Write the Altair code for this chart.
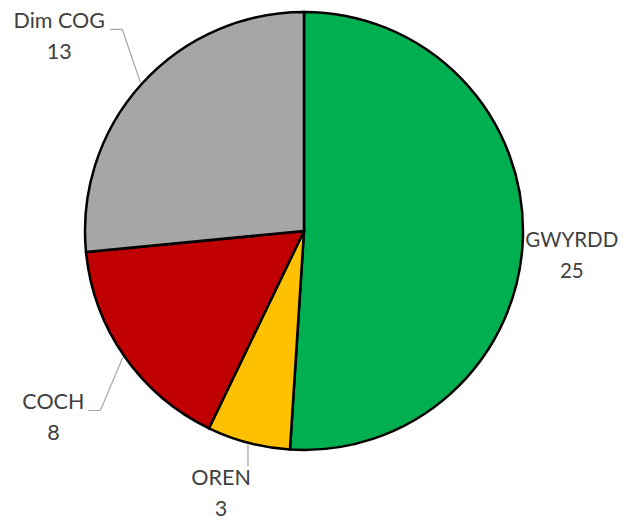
import math
import altair as alt
import pandas as pd

# data
categories = ["GWYRDD", "OREN", "COCH", "Dim COG"]
values = [25, 3, 8, 13]
colors = ["#00b050", "#ffc000", "#c00000", "#a6a6a6"]

# layout (not data)
W, H = 592, 446
CX, CY = W / 2, H / 2
R = 219
label_radius = [269, 276, 313, 312]
label_angle_offset = [3.5, 2.8, -1.9, -3.9]          # degrees from slice middle
label_size = [20.5, 21.5, 21.5, 21.5]
# leader: (dx_elbow, dy_elbow, dx_end, dy_end) relative to label anchor; None = no leader
leader_offsets = [None, (27, -28, 27, -28), (47, -8, 35, -8), (63, -8, 51, -8)]

total = sum(values)
mids = []
acc = 0
for v in values:
    mids.append((acc + v / 2) / total * 2 * math.pi)
    acc += v

df = pd.DataFrame({"cat": categories, "val": values, "idx": list(range(len(values)))})

lab = pd.DataFrame({
    "text": [f"{c}\n{v}" for c, v in zip(categories, values)],
    "theta": [m + math.radians(o) for m, o in zip(mids, label_angle_offset)],
    "r": label_radius,
    "s": label_size,
})

rows = []
for i, (m, lo) in enumerate(zip(mids, leader_offsets)):
    if lo is None:
        continue
    a = lab["theta"][i]
    lx = CX + label_radius[i] * math.sin(a)
    ly = CY - label_radius[i] * math.cos(a)
    ex = CX + (R + 2) * math.sin(m)
    ey = CY - (R + 2) * math.cos(m)
    pts = [(ex, ey), (lx + lo[0], ly + lo[1]), (lx + lo[2], ly + lo[3])]
    for k, (x, y) in enumerate(pts):
        rows.append({"g": categories[i], "k": k, "x": x, "y": y})
lead = pd.DataFrame(rows)

pie = alt.Chart(df).mark_arc(outerRadius=R, stroke="black", strokeWidth=2.5).encode(
    theta=alt.Theta("val:Q", stack=True),
    order=alt.Order("idx:Q"),
    color=alt.Color("cat:N", scale=alt.Scale(domain=categories, range=colors), legend=None),
)

leaders = alt.Chart(lead).mark_line(color="#a6a6a6", strokeWidth=1.2).encode(
    x=alt.X("x:Q", scale=None),
    y=alt.Y("y:Q", scale=None),
    detail="g:N",
    order="k:Q",
)

labels = alt.Chart(lab).mark_text(
    font="Lato", color="#404040", lineBreak="\n", lineHeight=31,
    align="center", baseline="middle", dy=-15.5,
).encode(
    theta=alt.Theta("theta:Q", scale=None),
    radius=alt.Radius("r:Q", scale=None),
    size=alt.Size("s:Q", scale=None),
    text="text:N",
)

chart = alt.layer(pie, leaders, labels).properties(
    width=W, height=H,
    padding={"left": 0, "top": 0, "right": 20, "bottom": 67},
    autosize=alt.AutoSizeParams(type="none"),
).configure_view(stroke=None)

chart.save("out.html", embed_options={"renderer": "svg", "actions": False})
